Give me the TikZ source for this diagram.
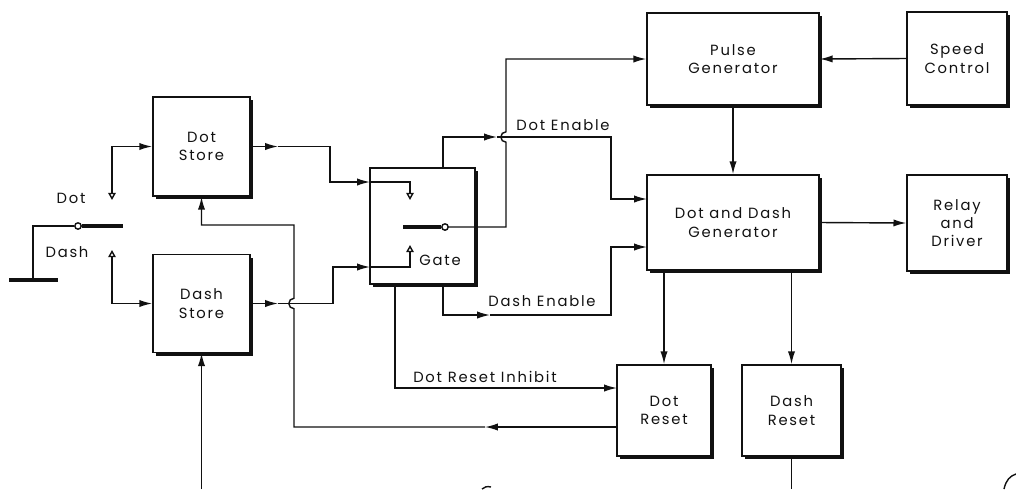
\documentclass[tikz,border=0pt]{standalone}
\usepackage{fontspec}
\setmainfont{Poppins}[LetterSpace=12]
\usepackage{tikz}
\usetikzlibrary{arrows.meta,positioning,calc,shadows}
\definecolor{ink}{HTML}{111111}
\tikzset{
  >={Latex[length=3.2mm,width=1.8mm]},
  every node/.style={font=\fontsize{10.5}{13}\selectfont,text=ink},
  blk/.style={draw=ink,fill=white,line width=1pt,align=center,inner sep=2pt,
    drop shadow={shadow xshift=2.2pt,shadow yshift=-2.2pt,fill=ink,opacity=1}},
  wire/.style={line width=1pt,draw=ink},
  arrow/.style={wire,->},
  contact/.style={wire,{Triangle[open,length=1.8mm,width=1.9mm]}-},
  contactin/.style={wire,{Triangle[open,length=1.8mm,width=1.9mm]}->},
  blade/.style={line width=3pt,draw=ink},
  pivot/.style={circle,draw=ink,fill=white,line width=1pt,inner sep=0pt,minimum size=1.6mm},
  lbl/.style={inner sep=1pt}
}
\begin{document}
\begin{tikzpicture}[x=0.025cm,y=-0.025cm]
  \useasboundingbox (0,0) rectangle (1016,489);

  % blocks
  \node[blk,minimum width=2.43cm,minimum height=2.48cm] (dotstore) at (201.5,146.5) {Dot\\Store};
  \node[blk,minimum width=2.43cm,minimum height=2.45cm] (dashstore) at (201.5,303.5) {Dash\\Store};
  \node[blk,minimum width=2.63cm,minimum height=2.9cm] (gate) at (422.5,226) {};
  \node[blk,minimum width=4.3cm,minimum height=2.3cm] (pulse) at (733,59) {Pulse\\Generator};
  \node[blk,minimum width=2.5cm,minimum height=2.33cm] (speed) at (957,58.5) {Speed\\Control};
  \node[blk,minimum width=4.3cm,minimum height=2.38cm] (ddg) at (733,222.5) {Dot and Dash\\Generator};
  \node[blk,minimum width=2.5cm,minimum height=2.4cm] (relay) at (957,223) {Relay\\and\\Driver};
  \node[blk,minimum width=2.35cm,minimum height=2.28cm] (dotreset) at (664,410.5) {Dot\\Reset};
  \node[blk,minimum width=2.48cm,minimum height=2.28cm] (dashreset) at (791.5,410.5) {Dash\\Reset};

  % key switch
  \node[pivot] (piv) at (78,226) {};
  \coordinate (bladeend) at (123,226);
  \coordinate (gnd) at (33,280);
  \coordinate (barl) at (9,280);
  \coordinate (barr) at (58,280);
  \coordinate (dotc) at (112,200);
  \coordinate (dashc) at (112,250);
  \node[lbl] (dotlbl) at (71,198) {Dot};
  \node[lbl] (dashlbl) at (67,252) {Dash};
  \draw[blade] (piv.east) -- (bladeend);
  \draw[wire] (piv.west) -| (gnd);
  \draw[blade] (barl) -- (barr);
  \draw[contactin] (dotc) |- (dotstore.west);
  \draw[contactin] (dashc) |- (dashstore.west);

  % gate inside
  \coordinate (g1) at (370,182);
  \coordinate (g2) at (370,267);
  \coordinate (gdot) at (410,200);
  \coordinate (gdash) at (410,245);
  \coordinate (gbl) at (403,227);
  \node[pivot] (gpiv) at (445,227) {};
  \node[lbl] (gatelbl) at (440,260) {Gate};
  \draw[blade] (gbl) -- (gpiv.west);
  \draw[contact] (gdot) |- (g1);
  \draw[contact] (gdash) |- (g2);

  % stores to gate
  \coordinate (dsout1) at (278,146.5);
  \coordinate (j1) at (330,182);
  \coordinate (dsout2) at (278,303.5);
  \coordinate (j2) at (333,267);
  \draw[arrow] (dotstore.east) -- (dsout1);
  \draw[arrow] (dsout1) -| (j1) -- (g1);
  \draw[arrow] (dashstore.east) -- (dsout2);
  \draw[arrow] (dsout2) -| (j2) -- (g2);

  % gate output to pulse generator
  \coordinate (hop1) at (506,142.2);
  \draw[arrow] (gpiv.east) -| (hop1) arc[start angle=270,end angle=90,radius=0.13cm] |- (pulse.west);

  % enables
  \coordinate (ge1) at (443,168);
  \coordinate (de2) at (497,137);
  \coordinate (de3) at (611,199);
  \coordinate (ddgin1) at (647,199);
  \draw[arrow] (ge1) |- (de2);
  \draw[arrow] (de2) -| (de3) -- (ddgin1);
  \node[lbl] (dotenable) at (563,125) {Dot Enable};

  \coordinate (ge2) at (443,284);
  \coordinate (da2) at (490,315);
  \coordinate (da3) at (611,247);
  \coordinate (ddgin2) at (647,247);
  \draw[arrow] (ge2) |- (da2);
  \draw[arrow] (da2) -| (da3) -- (ddgin2);
  \node[lbl] (dashenable) at (542,301) {Dash Enable};

  \coordinate (gi) at (395,284);
  \coordinate (dri) at (617,388);
  \draw[arrow] (gi) |- (dri);
  \node[lbl] (inhibit) at (485,377) {Dot Reset Inhibit};

  % dot reset back to dot store
  \coordinate (r1) at (617,427);
  \coordinate (r2) at (485,427);
  \coordinate (hop2) at (294,308.7);
  \coordinate (r3) at (294,225);
  \draw[arrow] (r1) -- (r2);
  \draw[arrow] (r2) -| (hop2) arc[start angle=270,end angle=90,radius=0.13cm] -- (r3) -| (dotstore.south);

  % right side
  \draw[arrow] (speed.west) -- (pulse.east);
  \draw[arrow] (pulse.south) -- (ddg.north);
  \draw[arrow] (ddg.east) -- (relay.west);
  \draw[arrow] (ddg.south -| dotreset.north) -- (dotreset.north);
  \draw[arrow] (ddg.south -| dashreset.north) -- (dashreset.north);

  % cut off at the bottom
  \coordinate (bot) at (0,489);
  \draw[wire] (dashreset.south) -- (dashreset.south |- bot);
  \draw[arrow] (dashstore.south |- bot) -- (dashstore.south);
  \draw[wire] (482,489) .. controls (484,487) and (487,486) .. (491,487);
  \draw[wire] (1004,489) .. controls (1006,480) and (1010,476) .. (1016,474);
\end{tikzpicture}
\end{document}
